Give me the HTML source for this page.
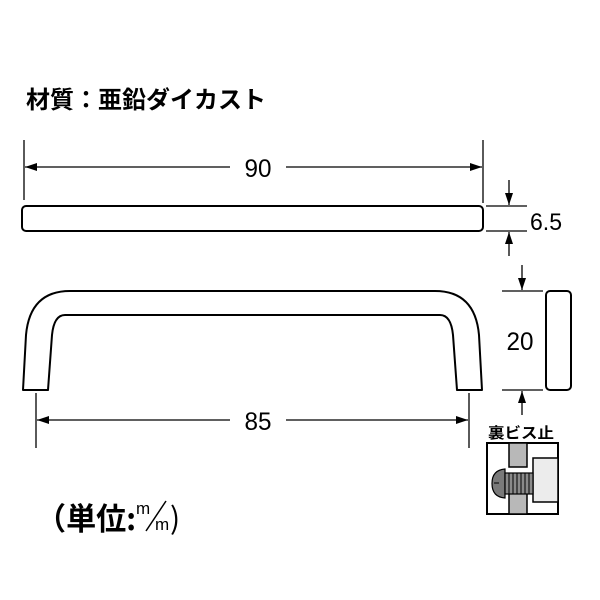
<!DOCTYPE html>
<html><head><meta charset="utf-8"><style>html,body{margin:0;padding:0;background:#fff}svg{display:block}</style></head>
<body>
<svg width="600" height="600" viewBox="0 0 600 600" xmlns="http://www.w3.org/2000/svg" font-family="'Liberation Sans','Noto Sans CJK JP',sans-serif">
<defs>
<marker id="a" markerWidth="12" markerHeight="8" refX="12" refY="4" orient="auto" markerUnits="userSpaceOnUse"><path d="M0,0 L12,4 L0,8 Z" fill="#000"/></marker>
</defs>
<text x="26" y="108" font-size="24" font-weight="bold" font-family="'Noto Sans CJK JP',sans-serif" textLength="240" lengthAdjust="spacingAndGlyphs">材質：亜鉛ダイカスト</text>

<g stroke="#000" stroke-width="1.3" fill="none">
<line x1="24" y1="140" x2="24" y2="200"/>
<line x1="483" y1="140" x2="483" y2="203"/>
<line x1="230" y1="167" x2="25" y2="167" marker-end="url(#a)"/>
<line x1="286" y1="167" x2="482" y2="167" marker-end="url(#a)"/>
</g>
<text x="258" y="177" font-size="25" text-anchor="middle" textLength="27" lengthAdjust="spacingAndGlyphs">90</text>

<rect x="22" y="206" width="461" height="25" rx="4" fill="#fff" stroke="#000" stroke-width="2"/>

<g stroke="#000" stroke-width="1.3" fill="none">
<line x1="486" y1="206" x2="527" y2="206"/>
<line x1="486" y1="231" x2="527" y2="231"/>
<line x1="509" y1="180" x2="509" y2="205" marker-end="url(#a)"/>
<line x1="509" y1="256" x2="509" y2="232" marker-end="url(#a)"/>
</g>
<text x="530" y="230" font-size="24" textLength="32" lengthAdjust="spacingAndGlyphs">6.5</text>

<path d="M23,390 L26,335 Q30,291 70,291 L435,291 Q475,291 479,335 L482,390 L457,390 L453,335 Q451,315 440,315 L65,315 Q54,315 52,335 L48,390 Z" fill="#fff" stroke="#000" stroke-width="2" stroke-linejoin="round"/>

<g stroke="#000" stroke-width="1.3" fill="none">
<line x1="36" y1="393" x2="36" y2="448"/>
<line x1="469" y1="393" x2="469" y2="448"/>
<line x1="230" y1="420" x2="37" y2="420" marker-end="url(#a)"/>
<line x1="286" y1="420" x2="468" y2="420" marker-end="url(#a)"/>
</g>
<text x="258" y="430" font-size="25" text-anchor="middle" textLength="27" lengthAdjust="spacingAndGlyphs">85</text>

<rect x="546" y="291" width="25" height="99" rx="4" fill="#fff" stroke="#000" stroke-width="2"/>
<g stroke="#000" stroke-width="1.3" fill="none">
<line x1="502" y1="291" x2="543" y2="291"/>
<line x1="502" y1="390" x2="543" y2="390"/>
<line x1="522" y1="265" x2="522" y2="290" marker-end="url(#a)"/>
<line x1="522" y1="415" x2="522" y2="391" marker-end="url(#a)"/>
</g>
<text x="520" y="350" font-size="25" text-anchor="middle" textLength="27" lengthAdjust="spacingAndGlyphs">20</text>

<text x="488" y="438" font-size="15" font-weight="bold" font-family="'Noto Sans CJK JP',sans-serif" textLength="66" lengthAdjust="spacingAndGlyphs">裏ビス止</text>
<rect x="487" y="443" width="71" height="71" fill="#fff" stroke="#000" stroke-width="2"/>
<rect x="509" y="443" width="18" height="24" fill="#b8b8b8" stroke="#000" stroke-width="1.5"/>
<rect x="509" y="492" width="18" height="22" fill="#b8b8b8" stroke="#000" stroke-width="1.5"/>
<rect x="533" y="458" width="25" height="44" fill="#ececec" stroke="#000" stroke-width="1.5"/>
<path d="M505,469 Q492,470 492,483.5 Q492,497 505,498 Z" fill="#7a7a7a" stroke="#000" stroke-width="1.2"/>
<rect x="505" y="473" width="28" height="21" fill="#8a8a8a" stroke="#000" stroke-width="1.2"/>
<g stroke="#000" stroke-width="1">
<line x1="509" y1="473" x2="509" y2="494"/><line x1="513" y1="473" x2="513" y2="494"/><line x1="517" y1="473" x2="517" y2="494"/><line x1="521" y1="473" x2="521" y2="494"/><line x1="525" y1="473" x2="525" y2="494"/><line x1="529" y1="473" x2="529" y2="494"/>
<line x1="494" y1="483" x2="499" y2="483"/>
</g>

<text x="36" y="530" font-size="31" font-weight="bold" font-family="'Noto Sans CJK JP',sans-serif" textLength="100" lengthAdjust="spacingAndGlyphs">（単位:</text>
<text x="136" y="514" font-size="17">m</text>
<line x1="146" y1="531" x2="166" y2="501" stroke="#000" stroke-width="1.5"/>
<text x="155" y="530" font-size="17">m</text>
<text x="170" y="529" font-size="30" font-family="'Noto Sans CJK JP',sans-serif">)</text>
</svg>
</body></html>
